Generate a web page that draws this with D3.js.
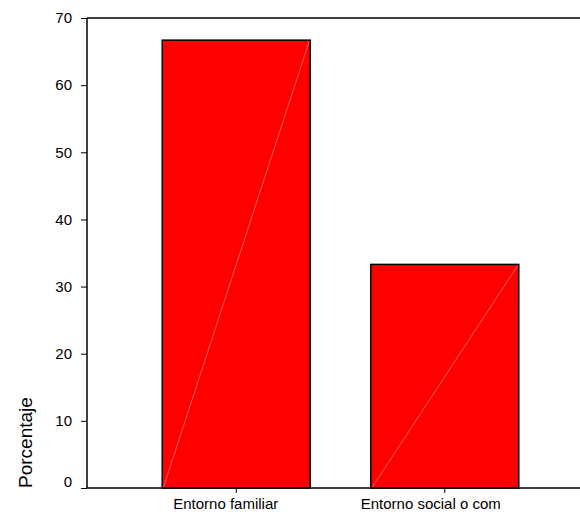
<!DOCTYPE html>
<html>
<head>
<meta charset="utf-8">
<script src="https://cdn.jsdelivr.net/npm/d3@7"></script>
<style>
  body { margin: 0; background: #fff; }
  text { font-family: "Liberation Sans", Arial, sans-serif; }
</style>
</head>
<body>
<div id="chart"></div>
<script>
const categories = ["Entorno familiar", "Entorno social o com"];
const values = [66.7, 33.3];
const yTicks = [0, 10, 20, 30, 40, 50, 60, 70];

const width = 580;
const height = 516;
const plotLeft = 87, plotRight = 580, plotTop = 18, plotBottom = 488;

const svg = d3.select("#chart")
    .append("svg")
    .attr("width", width)
    .attr("height", height);

const x = d3.scaleBand()
    .domain(categories)
    .range([132, 549])
    .paddingInner(0.29)
    .paddingOuter(0.145);

const y = d3.scaleLinear()
    .domain([0, 70])
    .range([plotBottom, plotTop]);

// bars
const bars = svg.append("g");
bars.selectAll("rect")
    .data(values)
    .join("rect")
        .attr("x", (d, i) => x(categories[i]))
        .attr("y", d => y(d))
        .attr("width", x.bandwidth())
        .attr("height", d => y(0) - y(d))
        .attr("fill", "#ff0000")
        .attr("stroke", "#000")
        .attr("stroke-width", 1.5);

bars.selectAll("line")
    .data(values)
    .join("line")
        .attr("x1", (d, i) => x(categories[i]) + 1)
        .attr("y1", y(0))
        .attr("x2", (d, i) => x(categories[i]) + x.bandwidth() - 1)
        .attr("y2", d => y(d) + 1)
        .attr("stroke", "#ff9c9c")
        .attr("stroke-width", 0.6);

// y axis
const yAxis = svg.append("g")
    .attr("transform", `translate(${plotLeft},0)`)
    .call(d3.axisLeft(y).tickValues(yTicks).tickSize(6).tickPadding(9));
yAxis.select(".domain").remove();
yAxis.selectAll(".tick line").attr("stroke", "#000");
yAxis.selectAll(".tick text")
    .attr("font-size", 15)
    .attr("fill", "#000")
    .attr("font-family", "Liberation Sans, Arial, sans-serif")
    .attr("dy", d => d === 0 ? "-0.1em" : "0.32em");

// x axis
const xAxis = svg.append("g")
    .attr("transform", `translate(0,${plotBottom})`)
    .call(d3.axisBottom(x).tickSize(5).tickPadding(5));
xAxis.select(".domain").remove();
xAxis.selectAll(".tick line").attr("stroke", "#000");
xAxis.selectAll(".tick text")
    .attr("font-size", 15)
    .attr("fill", "#000")
    .attr("font-family", "Liberation Sans, Arial, sans-serif")
    .attr("dx", function () { return -0.1 * this.getComputedTextLength(); });

// frame lines
svg.append("line")
    .attr("x1", plotLeft).attr("x2", plotLeft)
    .attr("y1", plotTop).attr("y2", plotBottom)
    .attr("stroke", "#000").attr("stroke-width", 1.5);
svg.append("line")
    .attr("x1", plotLeft).attr("x2", plotRight)
    .attr("y1", plotTop).attr("y2", plotTop)
    .attr("stroke", "#000").attr("stroke-width", 1.5);
svg.append("line")
    .attr("x1", plotLeft).attr("x2", plotRight)
    .attr("y1", plotBottom).attr("y2", plotBottom)
    .attr("stroke", "#000").attr("stroke-width", 1.5);

// y label
svg.append("text")
    .attr("transform", `translate(32,${plotBottom}) rotate(-90)`)
    .attr("text-anchor", "start")
    .attr("font-size", 19)
    .text("Porcentaje");
</script>
</body>
</html>
